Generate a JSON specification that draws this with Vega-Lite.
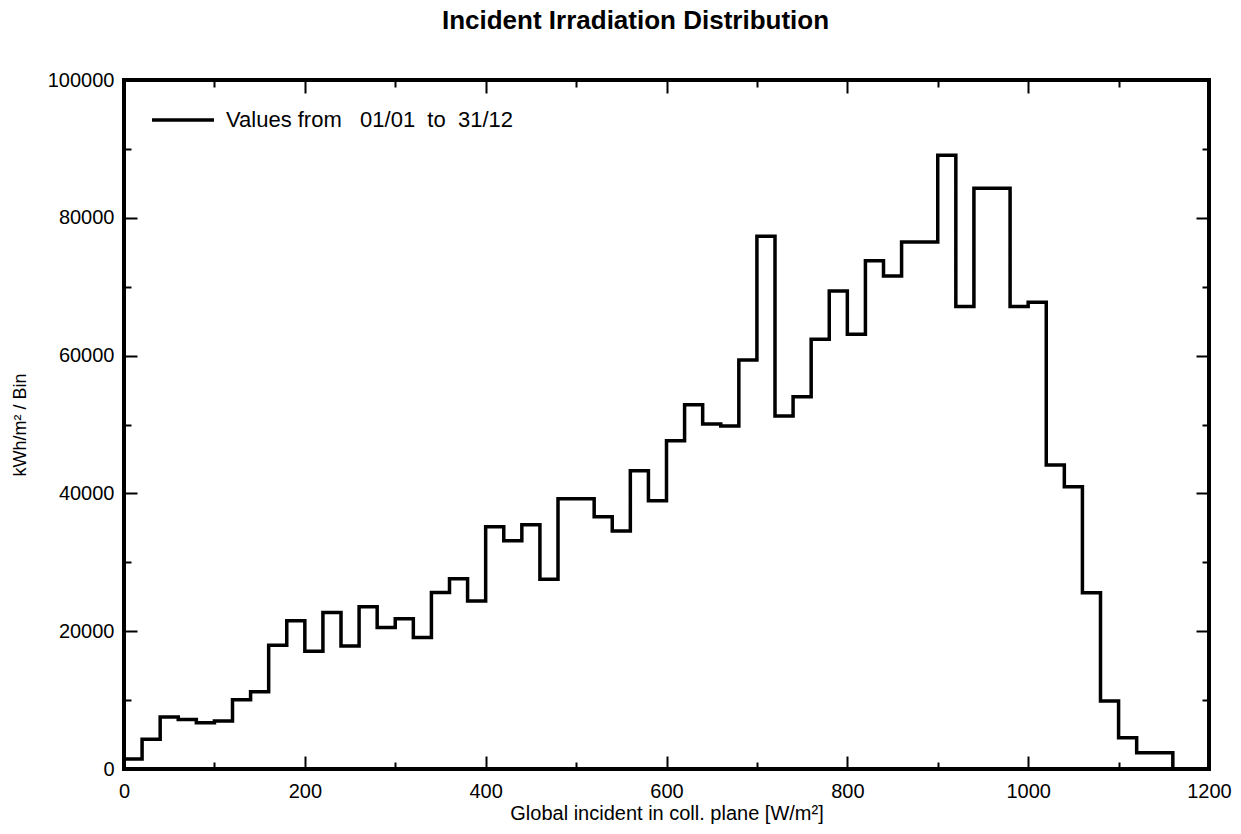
{
  "$schema": "https://vega.github.io/schema/vega-lite/v6.json",
  "width": 1085,
  "height": 689,
  "autosize": "none",
  "padding": {"left": 124, "top": 80, "right": 32, "bottom": 65},
  "background": "white",
  "title": {
    "text": "Incident Irradiation Distribution",
    "font": "Liberation Sans",
    "fontSize": 26,
    "fontWeight": "bold",
    "color": "black",
    "anchor": "middle",
    "dx": -31,
    "offset": 36
  },
  "config": {
    "view": {"stroke": "black", "strokeWidth": 4},
    "axis": {
      "domain": false,
      "grid": false,
      "labelFont": "Liberation Sans",
      "labelFontSize": 20,
      "labelColor": "black",
      "labelFlush": false,
      "tickColor": "black",
      "tickWidth": 2,
      "titleFont": "Liberation Sans",
      "titleFontWeight": "normal",
      "titleColor": "black"
    },
    "legend": {
      "orient": "none",
      "legendX": 26,
      "legendY": 7,
      "symbolType": "stroke",
      "symbolSize": 3844,
      "symbolStrokeWidth": 3.5,
      "labelFont": "Liberation Sans",
      "labelFontSize": 22,
      "labelColor": "black",
      "labelOffset": 10,
      "labelLimit": 0,
      "padding": 0
    }
  },
  "data": {
    "values": [
      {"irradiance": 0, "energy": 1450},
      {"irradiance": 20, "energy": 4300},
      {"irradiance": 40, "energy": 7550},
      {"irradiance": 60, "energy": 7200},
      {"irradiance": 80, "energy": 6700},
      {"irradiance": 100, "energy": 6950},
      {"irradiance": 120, "energy": 10050},
      {"irradiance": 140, "energy": 11200},
      {"irradiance": 160, "energy": 17950},
      {"irradiance": 180, "energy": 21500},
      {"irradiance": 200, "energy": 17100},
      {"irradiance": 220, "energy": 22700},
      {"irradiance": 240, "energy": 17850},
      {"irradiance": 260, "energy": 23550},
      {"irradiance": 280, "energy": 20550},
      {"irradiance": 300, "energy": 21800},
      {"irradiance": 320, "energy": 19100},
      {"irradiance": 340, "energy": 25600},
      {"irradiance": 360, "energy": 27600},
      {"irradiance": 380, "energy": 24400},
      {"irradiance": 400, "energy": 35170},
      {"irradiance": 420, "energy": 33130},
      {"irradiance": 440, "energy": 35460},
      {"irradiance": 460, "energy": 27530},
      {"irradiance": 480, "energy": 39230},
      {"irradiance": 500, "energy": 39230},
      {"irradiance": 520, "energy": 36620},
      {"irradiance": 540, "energy": 34540},
      {"irradiance": 560, "energy": 43300},
      {"irradiance": 580, "energy": 38940},
      {"irradiance": 600, "energy": 47650},
      {"irradiance": 620, "energy": 52870},
      {"irradiance": 640, "energy": 50070},
      {"irradiance": 660, "energy": 49780},
      {"irradiance": 680, "energy": 59360},
      {"irradiance": 700, "energy": 77310},
      {"irradiance": 720, "energy": 51230},
      {"irradiance": 740, "energy": 54020},
      {"irradiance": 760, "energy": 62360},
      {"irradiance": 780, "energy": 69380},
      {"irradiance": 800, "energy": 63090},
      {"irradiance": 820, "energy": 73770},
      {"irradiance": 840, "energy": 71550},
      {"irradiance": 860, "energy": 76490},
      {"irradiance": 880, "energy": 76490},
      {"irradiance": 900, "energy": 89070},
      {"irradiance": 920, "energy": 67130},
      {"irradiance": 940, "energy": 84280},
      {"irradiance": 960, "energy": 84280},
      {"irradiance": 980, "energy": 67130},
      {"irradiance": 1000, "energy": 67760},
      {"irradiance": 1020, "energy": 44120},
      {"irradiance": 1040, "energy": 40970},
      {"irradiance": 1060, "energy": 25590},
      {"irradiance": 1080, "energy": 9870},
      {"irradiance": 1100, "energy": 4550},
      {"irradiance": 1120, "energy": 2370},
      {"irradiance": 1140, "energy": 2370},
      {"irradiance": 1160, "energy": 0}
    ]
  },
  "layer": [
    {
      "mark": {"type": "line", "interpolate": "step-after", "strokeWidth": 3.5, "strokeCap": "butt"},
      "encoding": {
        "x": {
          "field": "irradiance",
          "type": "quantitative",
          "scale": {"domain": [0, 1200], "nice": false, "zero": false},
          "axis": {
            "orient": "bottom",
            "values": [0, 100, 200, 300, 400, 500, 600, 700, 800, 900, 1000, 1100, 1200],
            "format": "d",
            "labelExpr": "datum.value % 200 === 0 ? datum.label : ''",
            "tickSize": {"condition": {"test": "datum.value % 200 === 0", "value": -13}, "value": -7},
            "labelPadding": 25,
            "title": "Global incident in coll. plane [W/m²]",
            "titleFontSize": 20,
            "titlePadding": 2
          }
        },
        "y": {
          "field": "energy",
          "type": "quantitative",
          "scale": {"domain": [0, 100000], "nice": false},
          "axis": {
            "orient": "left",
            "values": [0, 10000, 20000, 30000, 40000, 50000, 60000, 70000, 80000, 90000, 100000],
            "format": "d",
            "labelExpr": "datum.value % 20000 === 0 ? datum.label : ''",
            "tickSize": {"condition": {"test": "datum.value % 20000 === 0", "value": -13}, "value": -7},
            "labelPadding": 23,
            "title": "kWh/m² / Bin",
            "titleFontSize": 18,
            "titlePadding": 18
          }
        },
        "color": {
          "datum": "Values from \u00a0 01/01 \u00a0to \u00a031/12",
          "type": "nominal",
          "scale": {"range": ["black"]},
          "legend": {"title": null}
        }
      }
    },
    {
      "mark": {"type": "line", "interpolate": "step-after", "opacity": 0},
      "encoding": {
        "x": {
          "field": "irradiance",
          "type": "quantitative",
          "axis": {
            "orient": "top",
            "values": [0, 100, 200, 300, 400, 500, 600, 700, 800, 900, 1000, 1100, 1200],
            "labels": false,
            "tickSize": {"condition": {"test": "datum.value % 200 === 0", "value": -13}, "value": -7},
            "title": null
          }
        },
        "y": {
          "field": "energy",
          "type": "quantitative",
          "axis": {
            "orient": "right",
            "values": [0, 10000, 20000, 30000, 40000, 50000, 60000, 70000, 80000, 90000, 100000],
            "labels": false,
            "tickSize": {"condition": {"test": "datum.value % 20000 === 0", "value": -13}, "value": -7},
            "title": null
          }
        }
      }
    }
  ],
  "resolve": {"axis": {"x": "independent", "y": "independent"}}
}
